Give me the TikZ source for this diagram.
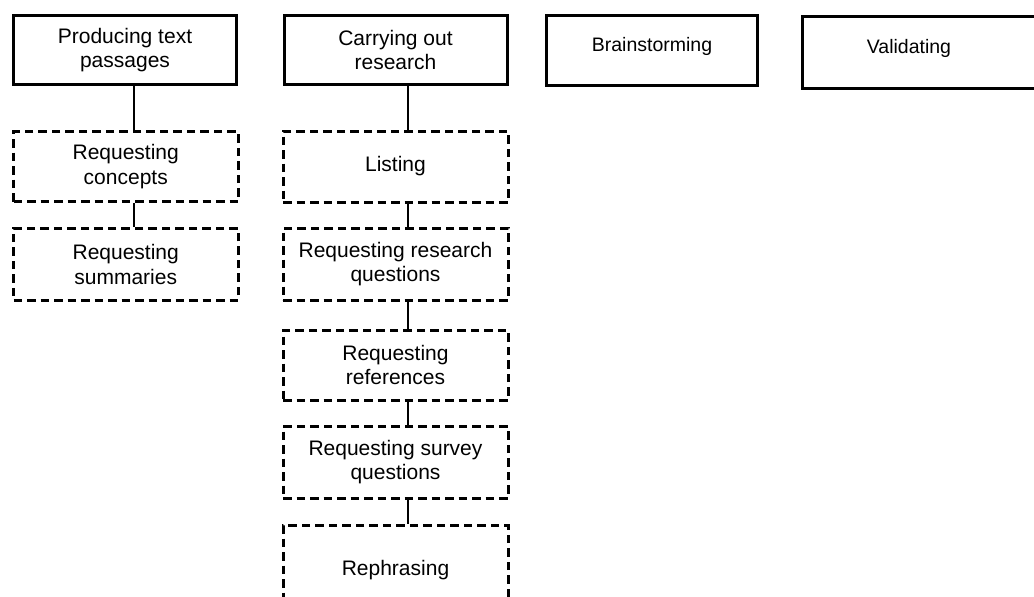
\documentclass[tikz,border=0pt]{standalone}
\usepackage{fontspec}
\setmainfont{Liberation Sans}
\begin{document}
\begin{tikzpicture}[x=1pt,y=-1pt,
  lbl/.style={font=\fontsize{21}{24.5}\selectfont, align=center, inner sep=0pt},
  smalllbl/.style={font=\fontsize{19.5}{23}\selectfont, align=center, inner sep=0pt},
  topbox/.style={draw, line width=3pt},
  subbox/.style={draw, line width=3pt, dash pattern=on 8.5pt off 5pt},
  link/.style={line width=2.3pt}]
\useasboundingbox (0,0) rectangle (1034,597);
\clip (0,0) rectangle (1034,597);

% top-level activities
\node[lbl, topbox, minimum width=223pt, minimum height=69pt] (prod) at (125,50) {Producing text\\passages};
\node[lbl, topbox, minimum width=223pt, minimum height=69pt] (res) at (395.5,50) {Carrying out\\research};
\node[smalllbl, topbox, minimum width=211.5pt, minimum height=70pt, text depth=11pt] (brain) at (652,50) {Brainstorming};
\node[topbox, minimum width=258pt, minimum height=72pt] (valbox) at (931,52) {};
\node[smalllbl] (val) at (909,48.3) {Validating};

% sub-activities of text production
\node[lbl, subbox, minimum width=224.5pt, minimum height=70pt] (concepts) at (125.75,166.5) {Requesting\\concepts};
\node[lbl, subbox, minimum width=224.5pt, minimum height=72pt] (summ) at (125.75,264.25) {Requesting\\summaries};

% sub-activities of research
\node[lbl, subbox, minimum width=225pt, minimum height=71pt] (listing) at (395.5,166.5) {Listing};
\node[lbl, subbox, minimum width=225pt, minimum height=72pt] (rq) at (395.5,264) {Requesting research\\questions};
\node[lbl, subbox, minimum width=225pt, minimum height=70pt] (refs) at (395.5,365) {Requesting\\references};
\node[lbl, subbox, minimum width=225pt, minimum height=71.5pt] (survey) at (395.5,462.25) {Requesting survey\\questions};
\node[lbl, subbox, minimum width=225pt, minimum height=90pt] (reph) at (395.5,570) {Rephrasing};

% connectors
\draw[link] ([xshift=9pt]prod.south) -- ([xshift=8.25pt]concepts.north);
\draw[link] ([xshift=8.25pt]concepts.south) -- ([xshift=8.25pt]summ.north);
\draw[link] ([xshift=12.5pt]res.south) -- ([xshift=12.5pt]listing.north);
\draw[link] ([xshift=12.5pt]listing.south) -- ([xshift=12.5pt]rq.north);
\draw[link] ([xshift=12.5pt]rq.south) -- ([xshift=12.5pt]refs.north);
\draw[link] ([xshift=12.5pt]refs.south) -- ([xshift=12.5pt]survey.north);
\draw[link] ([xshift=12.5pt]survey.south) -- ([xshift=12.5pt]reph.north);
\end{tikzpicture}
\end{document}
